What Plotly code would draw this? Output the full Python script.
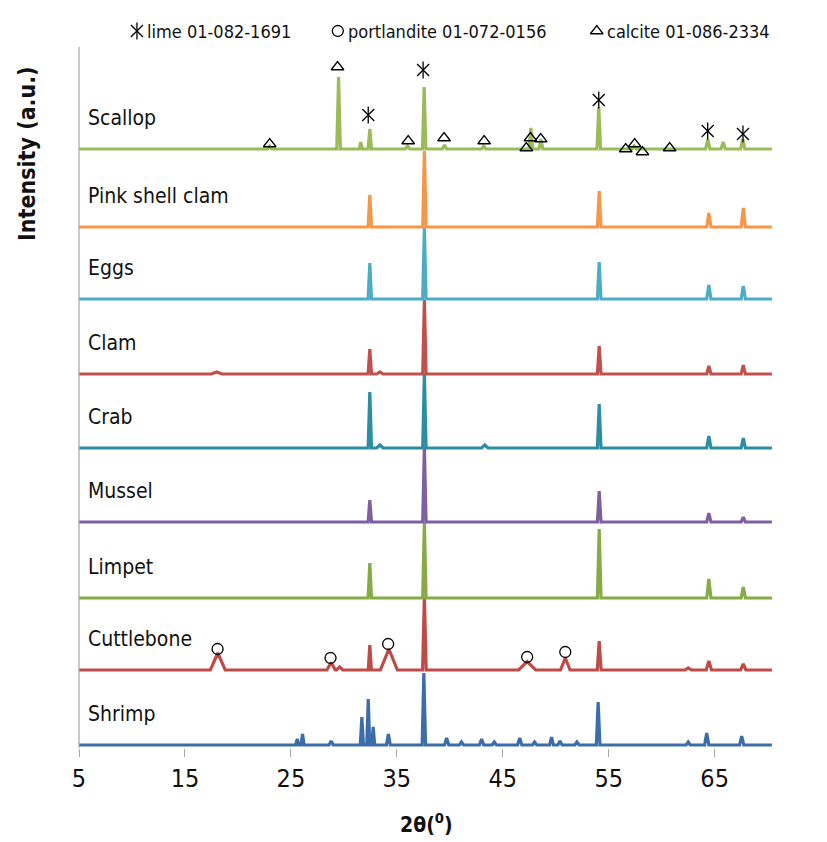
import plotly.graph_objects as go

# ---------------- data ----------------
X_START, X_END = 5.0, 70.4
samples = ["Scallop", "Pink shell clam", "Eggs", "Clam", "Crab",
           "Mussel", "Limpet", "Cuttlebone", "Shrimp"]
colors = ["#9BBB59", "#F79646", "#4BACC6", "#C0504D", "#2C8EA3",
          "#7E60A0", "#84AB44", "#BE4B48", "#3B6DAA"]
offsets = [596, 518, 446, 371, 297, 223, 147, 75, 0]

# peaks: (2theta, height a.u., half-width)
scallop_peaks = [(23.0, 3, 0.2), (29.5, 72, 0.17), (31.6, 7, 0.15), (32.45, 20, 0.16),
                 (36.0, 3, 0.2), (37.58, 62, 0.16), (39.5, 4, 0.2), (43.2, 3, 0.2),
                 (47.65, 21, 0.18), (48.6, 10, 0.18), (54.06, 42, 0.17), (57.4, 3, 0.2),
                 (64.35, 10, 0.2), (65.8, 7, 0.2), (67.65, 10, 0.2)]
pink_peaks = [(32.45, 32, 0.16), (37.6, 76, 0.16), (54.1, 36, 0.17),
              (64.45, 14, 0.2), (67.7, 19, 0.2)]
eggs_peaks = [(32.45, 36, 0.16), (37.6, 71, 0.16), (54.1, 37, 0.17),
              (64.45, 14, 0.2), (67.7, 13, 0.2)]
clam_peaks = [(18.0, 2, 0.5), (32.45, 25, 0.16), (33.4, 2, 0.3), (37.6, 74, 0.16),
              (54.1, 28, 0.17), (64.45, 8, 0.2), (67.7, 9, 0.2)]
crab_peaks = [(32.45, 56, 0.16), (33.4, 3, 0.3), (37.6, 75, 0.16), (43.3, 3, 0.3),
              (54.1, 44, 0.17), (64.45, 12, 0.2), (67.7, 10, 0.2)]
mussel_peaks = [(32.45, 22, 0.16), (37.6, 75, 0.16), (54.1, 31, 0.17),
                (64.45, 9, 0.2), (67.7, 5, 0.2)]
limpet_peaks = [(32.45, 35, 0.16), (37.6, 75, 0.16), (54.1, 69, 0.17),
                (64.45, 19, 0.2), (67.7, 11, 0.2)]
cuttle_peaks = [(18.1, 17, 0.7), (28.8, 7.5, 0.4), (29.6, 3, 0.3), (32.45, 25, 0.15),
                (34.25, 21, 0.8), (37.6, 73, 0.17), (47.3, 8.5, 0.8), (50.9, 12, 0.45),
                (54.1, 29, 0.18), (62.5, 2, 0.3), (64.45, 9, 0.25), (67.7, 6, 0.25)]
shrimp_peaks = [(25.6, 6, 0.15), (26.1, 11, 0.15), (28.8, 4, 0.2), (31.7, 28, 0.15),
                (32.3, 46, 0.14), (32.77, 18, 0.14), (34.2, 11, 0.18), (37.55, 72, 0.16),
                (39.7, 7, 0.2), (41.1, 3, 0.2), (43.0, 6, 0.2), (44.2, 3, 0.2),
                (46.6, 7, 0.2), (48.0, 3, 0.2), (49.6, 8, 0.18), (50.4, 4, 0.2),
                (52.0, 3, 0.2), (54.0, 43, 0.17), (62.5, 3, 0.2), (64.25, 12, 0.2),
                (67.55, 9, 0.2)]
peak_lists = [scallop_peaks, pink_peaks, eggs_peaks, clam_peaks, crab_peaks,
              mussel_peaks, limpet_peaks, cuttle_peaks, shrimp_peaks]

# phase markers (2theta, a.u. incl. offset)
lime_x = [32.3, 37.48, 54.06, 64.34, 67.67]
lime_y = [630, 675, 645, 614, 611]
portlandite_x = [18.08, 28.74, 34.18, 47.3, 50.9]
portlandite_y = [96, 87, 101, 88, 93]
calcite_x = [23.0, 29.4, 36.07, 39.46, 43.24, 47.22, 47.61, 48.58, 56.6, 57.45, 58.18, 60.75]
calcite_y = [601, 678, 604, 607, 604, 597, 607, 606, 596, 601, 593, 597]

legend_labels = ["lime 01-082-1691", "portlandite 01-072-0156", "calcite 01-086-2334"]
legend_symbol_x = [10.47, 29.43, 53.87]
LEGEND_Y = 714

x_ticks = [5, 15, 25, 35, 45, 55, 65]

NARROW = "'Liberation Sans Narrow', 'DejaVu Sans Condensed', Lato, sans-serif"

fig = go.Figure()


def trace_points(peaks, offset):
    xs, ys = [X_START], [offset]
    for pos, h, hw in sorted(peaks):
        xs += [pos - hw, pos, pos + hw]
        ys += [offset, offset + h, offset]
    xs.append(X_END)
    ys.append(offset)
    return xs, ys


# draw bottom series first so the upper ones sit on top
for name, col, off, pk in reversed(list(zip(samples, colors, offsets, peak_lists))):
    xs, ys = trace_points(pk, off)
    fig.add_trace(go.Scatter(x=xs, y=ys, mode="lines", name=name,
                             line=dict(color=col, width=3.2), showlegend=False,
                             hoverinfo="skip"))

mk_line = dict(color="black", width=1.3)
# calcite
fig.add_trace(go.Scatter(x=calcite_x + [legend_symbol_x[2]], y=calcite_y + [LEGEND_Y],
                         mode="markers", showlegend=False, cliponaxis=False,
                         marker=dict(symbol="triangle-up-open", size=11, line=mk_line, color="black")))
# portlandite
fig.add_trace(go.Scatter(x=portlandite_x + [legend_symbol_x[1]], y=portlandite_y + [LEGEND_Y],
                         mode="markers", showlegend=False, cliponaxis=False,
                         marker=dict(symbol="circle-open", size=11, line=mk_line, color="black")))
# lime (x + vertical bar)
for sym in ["x-thin-open", "line-ns-open"]:
    fig.add_trace(go.Scatter(x=lime_x + [legend_symbol_x[0]], y=lime_y + [LEGEND_Y],
                             mode="markers", showlegend=False, cliponaxis=False,
                             marker=dict(symbol=sym, size=12, line=mk_line, color="black")))

annotations = []
for lab, sx in zip(legend_labels, legend_symbol_x):
    annotations.append(dict(x=sx + 0.75, y=LEGEND_Y, xref="x", yref="y", text=lab,
                            showarrow=False, xanchor="left", yanchor="middle",
                            font=dict(family=NARROW, size=18, color="#111")))

for name, off in zip(samples, offsets):
    annotations.append(dict(x=5.7, y=off + 31, xref="x", yref="y", text=name,
                            showarrow=False, xanchor="left", yanchor="middle",
                            font=dict(family=NARROW, size=21, color="#111")))

annotations.append(dict(x=0.5, y=-0.104, xref="paper", yref="paper",
                        text="<b>2θ(<sup>0</sup>)</b>", showarrow=False,
                        xanchor="center", yanchor="middle",
                        font=dict(family=NARROW, size=21, color="#111")))
annotations.append(dict(x=-0.074, y=0.82, xref="paper", yref="paper",
                        text="<b>Intensity (a.u.)</b>", showarrow=False, textangle=-90,
                        xanchor="center", yanchor="middle",
                        font=dict(family=NARROW, size=23, color="#111")))

# the page body adds an 8 px margin, so the figure is 8 px smaller each way
fig.update_layout(
    width=819, height=834,
    margin=dict(l=71, r=53, t=16, b=94),
    paper_bgcolor="white", plot_bgcolor="white",
    annotations=annotations,
    shapes=[dict(type="line", xref="paper", yref="y", x0=0, x1=0, y0=-3, y1=698,
                 line=dict(color="#A6A6A6", width=1.2))],
)
fig.update_xaxes(range=[5, 70.6], tickvals=x_ticks, ticktext=[str(v) for v in x_ticks],
                 showgrid=False, zeroline=False, showline=False,
                 ticks="outside", ticklen=8, tickcolor="#A6A6A6", tickwidth=1,
                 tickfont=dict(family=NARROW, size=25, color="#111"))
fig.update_yaxes(range=[-3, 721], showgrid=False, zeroline=False, showline=False,
                 showticklabels=False, ticks="")

fig.write_html("out.html")
